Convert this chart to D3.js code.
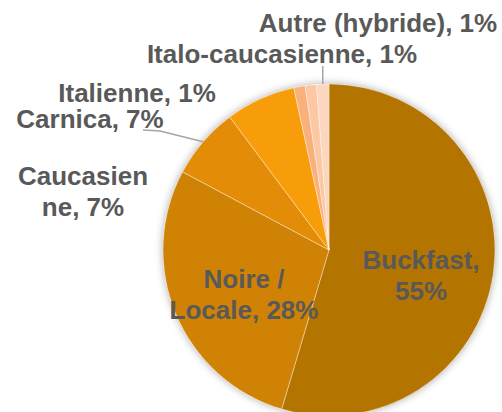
<!DOCTYPE html>
<html lang="fr">
<head>
<meta charset="utf-8" />
<script src="https://cdn.jsdelivr.net/npm/d3@7"></script>
<style>
    body { margin: 0; background: #fff; }
    .lbl { font: bold 26px "Liberation Sans", Arial, sans-serif; fill: #595959; }
</style>
</head>
<body>
<script>
    // races d'abeilles, part en %
    var races = ["Buckfast", "Noire / Locale", "Caucasienne", "Carnica", "Italienne", "Italo-caucasienne", "Autre (hybride)"];
    var parts = [54.6, 28.2, 7.0, 6.8, 1.1, 1.1, 1.2];
    var couleurs = ["#b37400", "#d08205", "#e38c08", "#f79d0a", "#f9b07a", "#fbc8a3", "#fcd6bf"];

    // texte des étiquettes (retour à la ligne comme dans Excel)
    var lignes = [["Buckfast,", "55%"], ["Noire /", "Locale, 28%"], ["Caucasien", "ne, 7%"],
                  ["Carnica, 7%"], ["Italienne, 1%"], ["Italo-caucasienne, 1%"], ["Autre (hybride), 1%"]];
    // position des étiquettes (centre, première ligne de base)
    var pos = [[421, 269], [244, 288], [83, 185], [90, 128], [137, 102], [282, 63], [378, 32]];

    var W = 502, H = 412;
    var cx = 329, cy = 250, R = 166;

    var svg = d3.select("body").append("svg").attr("width", W).attr("height", H);

    var defs = svg.append("defs");
    var f = defs.append("filter").attr("id", "ombre")
        .attr("x", "-20%").attr("y", "-20%").attr("width", "140%").attr("height", "140%");
    f.append("feGaussianBlur").attr("in", "SourceAlpha").attr("stdDeviation", 4);
    f.append("feComponentTransfer").append("feFuncA").attr("type", "linear").attr("slope", 0.35);
    var m = f.append("feMerge");
    m.append("feMergeNode");
    m.append("feMergeNode").attr("in", "SourceGraphic");

    var data = races.map(function (r, i) { return { race: r, val: parts[i], i: i }; });

    var pie = d3.pie().sort(null).value(function (d) { return d.val; });
    var arc = d3.arc().innerRadius(0).outerRadius(R);

    var g = svg.append("g").attr("transform", "translate(" + cx + "," + cy + ")");

    g.append("circle").attr("r", R).attr("fill", "#fff").attr("filter", "url(#ombre)");

    g.selectAll("path.part")
        .data(pie(data))
        .enter().append("path")
        .attr("class", "part")
        .attr("d", arc)
        .attr("fill", function (d) { return couleurs[d.data.i]; })
        .attr("stroke", "rgba(255,255,255,0.45)")
        .attr("stroke-width", 0.8);

    // lignes de repère
    var arcs = pie(data);
    function bord(a) {
        return [cx + R * Math.sin(a), cy - R * Math.cos(a)];
    }
    var aCarnica = (arcs[2].startAngle + arcs[2].endAngle) / 2;
    var p1 = bord(aCarnica);
    svg.append("polyline")
        .attr("points", [[143, 130], [160, 131], p1].map(function (p) { return p.join(","); }).join(" "))
        .attr("fill", "none").attr("stroke", "#a6a6a6").attr("stroke-width", 1.5);

    var aItalo = (arcs[6].startAngle + arcs[6].endAngle) / 2;
    var p2 = bord(aItalo);
    svg.append("line")
        .attr("x1", p2[0]).attr("y1", 66).attr("x2", p2[0]).attr("y2", p2[1])
        .attr("stroke", "#a6a6a6").attr("stroke-width", 1.5);

    // étiquettes
    var t = svg.selectAll("text.lbl")
        .data(data)
        .enter().append("text")
        .attr("class", "lbl")
        .attr("text-anchor", "middle")
        .attr("x", function (d) { return pos[d.i][0]; })
        .attr("y", function (d) { return pos[d.i][1]; });

    t.each(function (d) {
        var el = d3.select(this);
        lignes[d.i].forEach(function (l, k) {
            el.append("tspan")
                .attr("x", pos[d.i][0])
                .attr("dy", k == 0 ? 0 : 31)
                .text(l);
        });
    });
</script>
</body>
</html>
